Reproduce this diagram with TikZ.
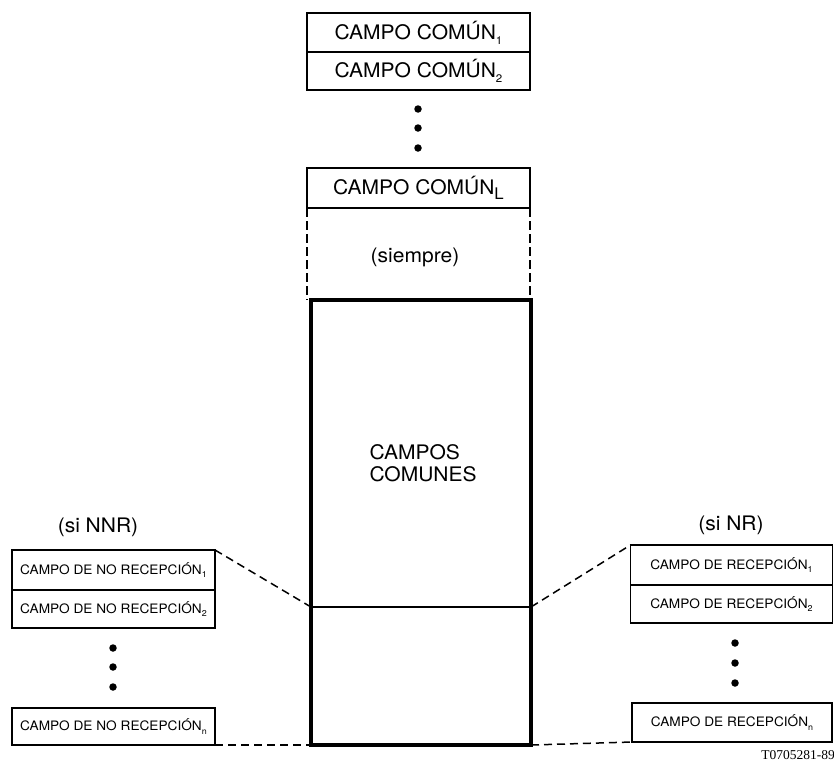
\documentclass[tikz,border=0pt]{standalone}
\usepackage{fontspec}
\setmainfont{TeX Gyre Heros}[FakeStretch=1.05]
\newfontfamily\serifid{Liberation Serif}
\newcommand{\bsub}[1]{\raisebox{-0.45ex}{\fontsize{11}{11}\selectfont #1}}
\newcommand{\bsubL}[1]{\raisebox{-0.45ex}{\fontsize{16}{16}\selectfont #1}}
\newcommand{\ssub}[1]{\raisebox{-0.45ex}{\fontsize{8.5}{8.5}\selectfont #1}}
\begin{document}
\begin{tikzpicture}[x=1pt,y=-1pt,
  box/.style={draw, line width=1.8pt, inner sep=0pt, outer sep=0pt},
  big/.style={font=\fontsize{20}{22}\selectfont},
  small/.style={font=\fontsize{13}{15}\selectfont},
  conn/.style={line width=1.5pt, dash pattern=on 8pt off 5pt},
  vdash/.style={line width=1.4pt, dash pattern=on 9pt off 4pt},
  dot/.style={circle, fill, inner sep=0pt, minimum size=7.5pt}]
\useasboundingbox (0,0) rectangle (834,763);

% top common fields
\node[box,big,minimum width=223pt,minimum height=39pt] (c1) at (418.5,32.5) {CAMPO COMÚN\bsub{1}};
\node[box,big,minimum width=223pt,minimum height=38pt] (c2) at (418.5,71) {CAMPO COMÚN\bsub{2}};
\node[dot] (d1) at (418,109) {};
\node[dot] (d2) at (418,128) {};
\node[dot] (d3) at (418,148) {};
\node[box,big,minimum width=223pt,minimum height=40pt] (cL) at (418.5,188) {CAMPO COMÚN\bsubL{L}};

% main thick box
\node[draw,line width=4.5pt,inner sep=0pt,outer sep=0pt,minimum width=220pt,minimum height=445pt] (main) at (421,522.5) {};
\draw[vdash] (cL.south west) -- (cL.south west |- main.north);
\draw[vdash] (cL.south east) -- (cL.south east |- main.north);
\coordinate (dl) at (311,607);
\coordinate (dr) at (531,607);
\draw[line width=1.6pt] (dl) -- (dr);

\node[big] (siempre) at (415,257) {(siempre)};
\node[big,align=left,anchor=west] (cc) at (366,463) {CAMPOS\\COMUNES};

% left side
\node[big] (nnr) at (98,527) {(si NNR)};
\node[box,small,minimum width=203pt,minimum height=40pt] (n1) at (113.5,570) {CAMPO DE NO RECEPCIÓN\ssub{1}};
\node[box,small,minimum width=203pt,minimum height=38pt] (n2) at (113.5,609) {CAMPO DE NO RECEPCIÓN\ssub{2}};
\node[dot] (d4) at (113,648) {};
\node[dot] (d5) at (113,667) {};
\node[dot] (d6) at (113,687) {};
\node[box,small,minimum width=203pt,minimum height=37pt] (nN) at (113.5,726.5) {CAMPO DE NO RECEPCIÓN\ssub{n}};
\draw[conn] (n1.north east) -- (dl);
\draw[conn] (nN.south east) -- (main.south west);

% right side
\node[big] (nr) at (731,525) {(si NR)};
\node[box,small,minimum width=202pt,minimum height=40pt] (r1) at (731.5,565) {CAMPO DE RECEPCIÓN\ssub{1}};
\node[box,small,minimum width=202pt,minimum height=38pt] (r2) at (731.5,604) {CAMPO DE RECEPCIÓN\ssub{2}};
\node[dot] (d7) at (735,643) {};
\node[dot] (d8) at (735,663) {};
\node[dot] (d9) at (735,683) {};
\node[box,small,minimum width=200pt,minimum height=39pt] (rN) at (732,722.5) {CAMPO DE RECEPCIÓN\ssub{n}};
\draw[conn] (dr) -- (r1.north west);
\draw[conn] (main.south east) -- (rN.south west);

\node[font=\serifid\fontsize{13.5}{14}\selectfont,inner sep=0pt] (id) at (798,755) {T0705281-89};
\end{tikzpicture}
\end{document}
